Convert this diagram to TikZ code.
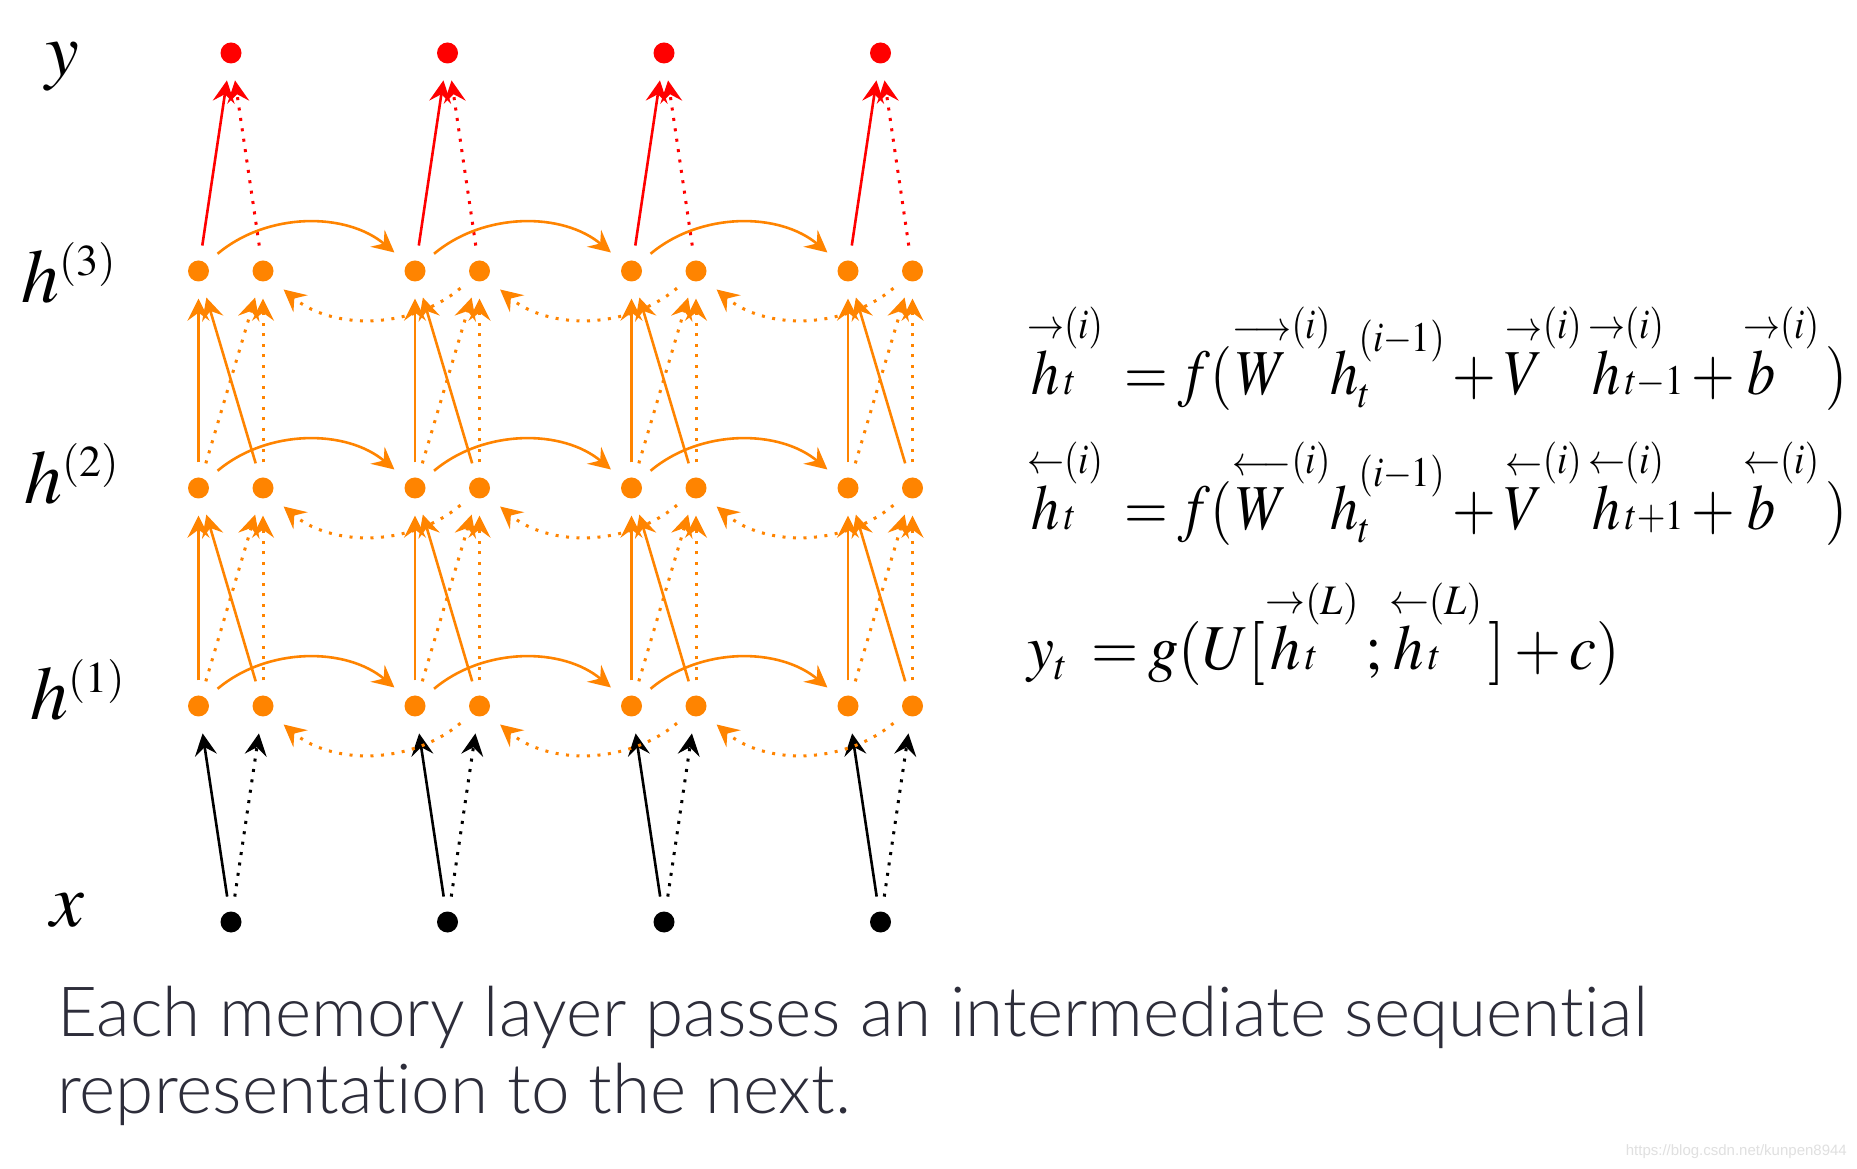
\documentclass[tikz,border=0pt]{standalone}
\usepackage{amsmath}
\usepackage{graphicx}
\usepackage{mathptmx}
\usepackage[no-math]{fontspec}
\IfFontExistsTF{Lato Light}{\newfontfamily\capfont{Lato Light}[Ligatures=NoCommon]}{\newfontfamily\capfont{Lato}[Ligatures=NoCommon]}
\newfontfamily\wmfont{Liberation Sans}
\usetikzlibrary{arrows.meta}
\DeclareMathSizes{76}{76}{44}{34}
\DeclareMathSizes{64}{64}{42}{32}
\definecolor{ora}{RGB}{255,132,0}
\definecolor{redd}{RGB}{255,0,0}
\definecolor{captxt}{RGB}{45,45,58}
\newcommand\ra[1]{\mathord{\overset{\rightarrow}{#1}}}
\newcommand\la[1]{\mathord{\overset{\leftarrow}{#1}}}
% raised superscript / subscript pair: #1 raise of sup, #2 sup, #3 raise of sub, #4 sub
\newcommand\scr[4]{\mathord{\hbox{\ooalign{\raisebox{#1}{$\scriptstyle #2$}\hfill\cr\raisebox{#3}{$\scriptstyle #4$}\hfill\cr}}}}
\newcommand\eqsign{\mskip3mu\boldsymbol{=}\mskip-1mu}
\tikzset{
  odot/.style={circle,fill=ora,inner sep=0pt,minimum size=21pt},
  rdot/.style={circle,fill=redd,inner sep=0pt,minimum size=21pt},
  kdot/.style={circle,fill=black,inner sep=0pt,minimum size=21pt},
  arr/.style={line width=2.6pt,-{Stealth[length=22pt,width=22pt,inset=8pt]},shorten <=15pt,shorten >=17pt},
  oarr/.style={arr,draw=ora},
  rarr/.style={arr,draw=redd},
  karr/.style={arr,draw=black},
  dotline/.style={line width=3pt,dash pattern=on 3pt off 7.5pt},
  lab/.style={anchor=base west,inner sep=0pt,font=\fontsize{76}{80}\selectfont},
  eq/.style={anchor=base west,inner sep=0pt,font=\fontsize{64}{70}\selectfont},
  captionstyle/.style={anchor=base west,inner sep=0pt,text=captxt,font=\capfont\fontsize{69.2}{77}\selectfont},
}
\begin{document}
\begin{tikzpicture}[x=1pt,y=1pt]
\useasboundingbox (0,0) rectangle (1857,1168);
\fill[white] (0,0) rectangle (1857,1168);
% nodes
\foreach \t in {0,1,2,3} {
  \pgfmathsetmacro\fx{198.5+216.5*\t}
  \pgfmathsetmacro\bx{\fx+64.5}
  \pgfmathsetmacro\mx{\fx+32.5}
  \node[odot] (F-1-\t) at (\fx,462) {};
  \node[odot] (B-1-\t) at (\bx,462) {};
  \node[odot] (F-2-\t) at (\fx,680) {};
  \node[odot] (B-2-\t) at (\bx,680) {};
  \node[odot] (F-3-\t) at (\fx,897) {};
  \node[odot] (B-3-\t) at (\bx,897) {};
  \node[rdot] (Y-\t) at (\mx,1115) {};
  \node[kdot] (X-\t) at (\mx,246) {};
}
% vertical connections
\foreach \t in {0,1,2,3} {
  \draw[karr] (X-\t) -- (F-1-\t);
  \draw[karr,dotline] (X-\t) -- (B-1-\t);
  \foreach \l/\n in {1/2,2/3} {
    \draw[oarr] (F-\l-\t) -- (F-\n-\t);
    \draw[oarr] (B-\l-\t) -- (F-\n-\t);
    \draw[oarr,dotline] (F-\l-\t) -- (B-\n-\t);
    \draw[oarr,dotline] (B-\l-\t) -- (B-\n-\t);
  }
  \draw[rarr] (F-3-\t) -- (Y-\t);
  \draw[rarr,dotline] (B-3-\t) -- (Y-\t);
}
% recurrent connections
\foreach \l in {1,2,3} {
  \foreach \t/\u in {0/1,1/2,2/3} {
    \draw[oarr] (F-\l-\t.45) to[out=40,in=140,looseness=1.02] (F-\l-\u.135);
    \draw[oarr,dotline] (B-\l-\u.225) to[out=220,in=320,looseness=1.02] (B-\l-\t.315);
  }
}
% row labels
\node[lab] (ly) at (45,1092) {$y$};
\node[lab] (lh3) at (21,865) {$h^{(3)}$};
\node[lab] (lh2) at (24,664) {$h^{(2)}$};
\node[lab] (lh1) at (30,448) {$h^{(1)}$};
\node[lab] (lx) at (50,242) {$x$};
% equations
\node[eq] (e1) at (1027,773) {\resizebox{820pt}{\height}{$\ra{h}\scr{0.88em}{(i)}{0em}{t}\eqsign f(\overset{\longrightarrow}{W}\scr{0.88em}{(i)}{0em}{}h\scr{0.68em}{(i{-}1)}{-0.2em}{t}+\ra{V}\scr{0.88em}{(i)}{0em}{}\,\ra{h}\scr{0.88em}{(i)}{0em}{t{-}1}+\ra{b}\scr{0.88em}{(i)}{0em}{}\,)$}};
\node[eq] (e2) at (1027,638) {\resizebox{820pt}{\height}{$\la{h}\scr{0.88em}{(i)}{0em}{t}\eqsign f(\overset{\longleftarrow}{W}\scr{0.88em}{(i)}{0em}{}h\scr{0.68em}{(i{-}1)}{-0.2em}{t}+\la{V}\scr{0.88em}{(i)}{0em}{}\,\la{h}\scr{0.88em}{(i)}{0em}{t{+}1}+\la{b}\scr{0.88em}{(i)}{0em}{}\,)$}};
\node[eq] (e3) at (1027,498) {\resizebox{593pt}{\height}{$y_t\eqsign g(U[\ra{h}\scr{0.86em}{(L)}{0em}{t}\,;\la{h}\scr{0.86em}{(L)}{0em}{t}\,]+c)$}};
% caption
\node[captionstyle] (c1) at (57,132) {Each memory layer passes an intermediate sequential};
\node[captionstyle] (c2) at (57,55) {representation to the next.};
% watermark
\node[anchor=base east,inner sep=0pt,text=black!12,font=\wmfont\fontsize{15}{18}\selectfont] (wm) at (1847,13) {https://blog.csdn.net/kunpen8944};
\end{tikzpicture}
\end{document}
